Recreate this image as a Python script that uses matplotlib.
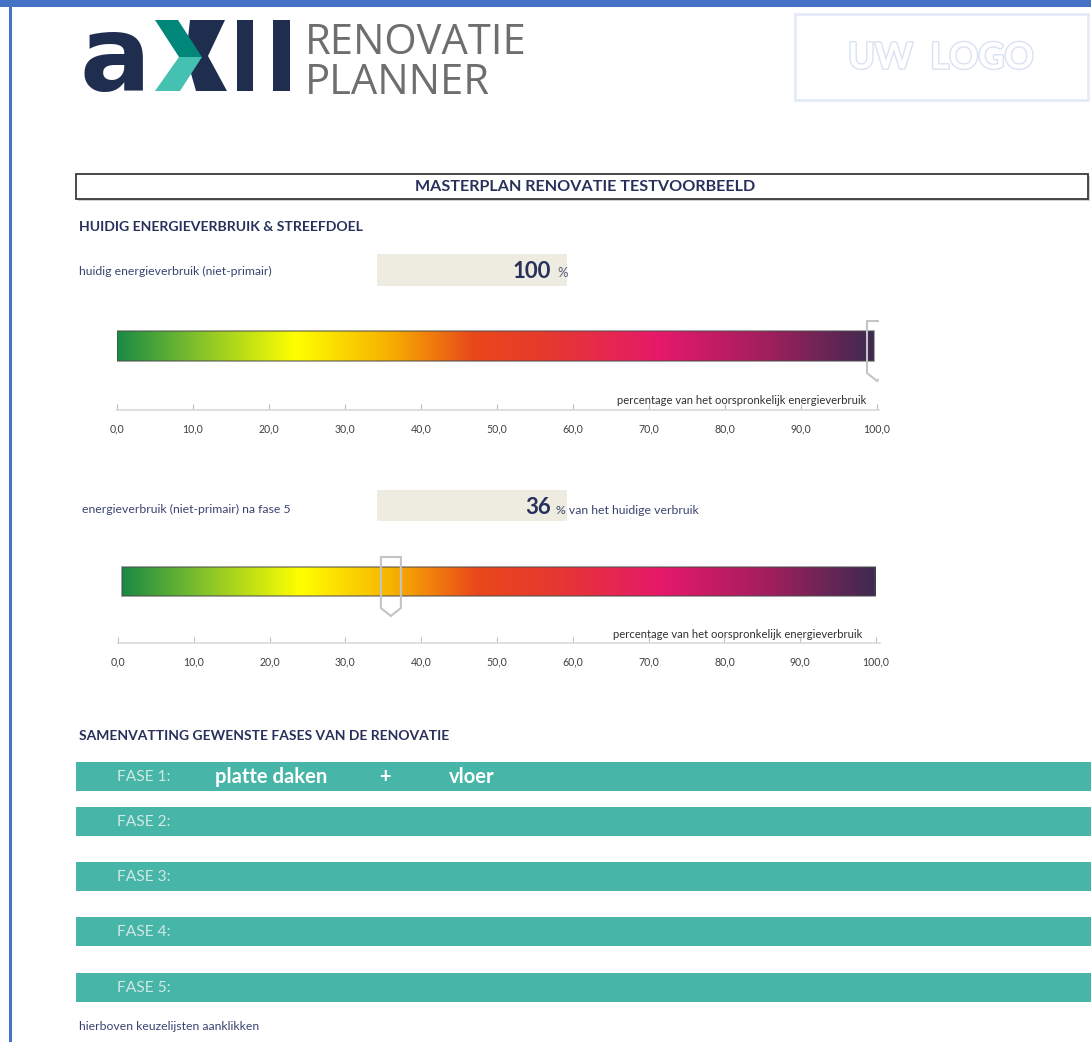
import numpy as np
import matplotlib.pyplot as plt
from matplotlib.colors import LinearSegmentedColormap
from matplotlib.patches import Rectangle, Polygon
import matplotlib.patheffects as pe

plt.rcParams['font.family'] = ['Lato', 'DejaVu Sans']

W, H = 1091, 1042

# waarden
huidig_verbruik = 100
verbruik_na_fase5 = 36
schaal_ticks = np.arange(0, 101, 10)
schaal_label = 'percentage van het oorspronkelijk energieverbruik'
fases = ['FASE 1:', 'FASE 2:', 'FASE 3:', 'FASE 4:', 'FASE 5:']
fase1_keuze = ['platte daken', '+', 'vloer']

# kleurverloop van de balk
verloop_pos = [0.0, 0.10, 0.235, 0.36, 0.47, 0.57, 0.72, 0.86, 1.0]
verloop_kleur = ['#1b8a45', '#7dbf2c', '#ffff00', '#f7b000', '#e9481a',
                 '#e6392f', '#e5186b', '#a11f5d', '#3e2a50']

navy = '#27305a'
klein = '#3b4470'
teal = '#47b5a7'

fig = plt.figure(figsize=(W / 100, H / 100), dpi=100)
ax = fig.add_axes([0, 0, 1, 1])
ax.set_xlim(0, W)
ax.set_ylim(H, 0)
ax.axis('off')

# blauwe randen
ax.add_patch(Rectangle((0, 0), W, 7, color='#4472c4', lw=0))
ax.add_patch(Rectangle((9, 0), 2.5, H, color='#4472c4', lw=0))

# logo
ax.text(80, 91, 'a', fontsize=76, fontweight='bold', color='#1f2d4f',
        family='DejaVu Sans', va='baseline', ha='left')
ax.add_patch(Polygon([(190, 20), (225, 20), (208, 56), (227, 91), (196, 91), (186, 56)],
                     color='#1f2d4f', lw=0))
ax.add_patch(Polygon([(155, 20), (178, 20), (202, 57), (179, 57)], color='#00877a', lw=0))
ax.add_patch(Polygon([(179, 57), (202, 57), (180, 91), (155, 91)], color='#44c1b0', lw=0))
ax.add_patch(Rectangle((237, 20), 16, 71, color='#1f2d4f', lw=0))
ax.add_patch(Rectangle((273, 20), 17, 71, color='#1f2d4f', lw=0))
ax.text(305, 54, 'RENOVATIE', fontsize=30, color='#6e6e6e', family='Open Sans',
        va='baseline', ha='left')
ax.text(305, 94, 'PLANNER', fontsize=30, color='#6e6e6e', family='Open Sans',
        va='baseline', ha='left')

# uw logo
ax.add_patch(Rectangle((795, 14), 293, 86, fill=False, ec='#e4ebf7', lw=2))
ax.text(941, 58, 'UW  LOGO', fontsize=26, fontweight='bold', color='white',
        ha='center', va='center',
        path_effects=[pe.withStroke(linewidth=2, foreground='#d8e2f4')])

# titel
ax.add_patch(Rectangle((78, 176), 1012, 25, fc='#d0d0d0', ec='none'))
ax.add_patch(Rectangle((76, 174), 1012, 25, fc='white', ec='#3a3a3a', lw=1.3))
ax.text(585, 187, 'MASTERPLAN RENOVATIE TESTVOORBEELD', fontsize=11.6, fontweight='bold',
        color=navy, ha='center', va='center')

ax.text(79, 227, 'HUIDIG ENERGIEVERBRUIK & STREEFDOEL', fontsize=10.1,
        fontweight='bold', color=navy, va='center')

# invoervakken
ax.text(79, 271, 'huidig energieverbruik (niet-primair)', fontsize=8.8,
        color=klein, va='center')
ax.add_patch(Rectangle((377, 254), 190, 32, color='#eeece1', lw=0))
ax.text(551, 271, f'{huidig_verbruik}', fontsize=16, fontweight='bold', color=navy,
        ha='right', va='center')
ax.text(557, 273, '%', fontsize=9.5, color='#555a7a', va='center')

ax.text(82, 509, 'energieverbruik (niet-primair) na fase 5', fontsize=8.8,
        color=klein, va='center')
ax.add_patch(Rectangle((377, 490), 190, 31, color='#eeece1', lw=0))
ax.text(551, 507, f'{verbruik_na_fase5}', fontsize=16, fontweight='bold', color=navy,
        ha='right', va='center')
ax.text(556, 510, '% van het huidige verbruik', fontsize=8.8, color=klein, va='center')

cmap = LinearSegmentedColormap.from_list('verloop', list(zip(verloop_pos, verloop_kleur)))


def meter(nul_px, honderd_px, rechts_px, ytop, ylijn, balk, balk_x, waarde, label_xy):
    ppu = (honderd_px - nul_px) / 100
    g = fig.add_axes([nul_px / W, 1 - ylijn / H, (rechts_px - nul_px) / W, (ylijn - ytop) / H])
    g.set_xlim(0, (rechts_px - nul_px) / ppu)
    g.set_ylim(ylijn, ytop)
    g.patch.set_alpha(0)
    for s in ['top', 'left', 'right']:
        g.spines[s].set_visible(False)
    g.spines['bottom'].set_color('#d9d9d9')
    g.spines['bottom'].set_linewidth(1.2)
    g.set_yticks([])
    g.set_xticks(schaal_ticks)
    g.set_xticklabels([f'{t:.1f}'.replace('.', ',') for t in schaal_ticks])
    g.tick_params(axis='x', direction='in', length=4, color='#bfbfbf', labelsize=7.6,
                  labelcolor='#404040', pad=10)
    grad = np.linspace(0, 1, 512).reshape(1, -1)
    g.imshow(grad, cmap=cmap, aspect='auto', extent=(balk_x[0], balk_x[1], balk[1], balk[0]),
             zorder=1)
    g.add_patch(Rectangle((balk_x[0], balk[0]), balk_x[1] - balk_x[0], balk[1] - balk[0],
                          fill=False, ec='#4a4a4a', lw=1.2, alpha=0.6, zorder=2))
    hw = 10 / ppu
    top, schouder, punt = balk[0] - 10, balk[1] + 12, balk[1] + 20
    g.add_patch(Polygon([(waarde - hw, top), (waarde + hw, top), (waarde + hw, schouder),
                         (waarde, punt), (waarde - hw, schouder)],
                        fill=False, ec='#c4c4c4', lw=1.5, zorder=3))
    ax.text(label_xy[0], label_xy[1], schaal_label, fontsize=8.1, color='#303030',
            ha='right', va='center')


meter(117, 877, 879, 315, 410, (331, 361), (0, 99.6), huidig_verbruik, (866, 400))
meter(118, 876, 880, 550, 643, (567, 596), (0.5, 99.9), verbruik_na_fase5, (862, 635))

ax.text(79, 736, 'SAMENVATTING GEWENSTE FASES VAN DE RENOVATIE', fontsize=10,
        fontweight='bold', color=navy, va='center')

for i, (fase, y) in enumerate(zip(fases, [762, 807, 862, 917, 973])):
    ax.add_patch(Rectangle((76, y), W - 76, 29, color=teal, lw=0))
    ax.text(117, y + 15, fase, fontsize=11.2, color='#cfe9e4', va='center')
    if i == 0:
        for item, x in zip(fase1_keuze, [215, 379, 449]):
            ax.text(x, y + 15, item, fontsize=14.5, fontweight='bold', color='white',
                    va='center')

ax.text(79, 1027, 'hierboven keuzelijsten aanklikken', fontsize=8.8, color=klein,
        va='center')

fig.savefig('out.png', dpi=100)
